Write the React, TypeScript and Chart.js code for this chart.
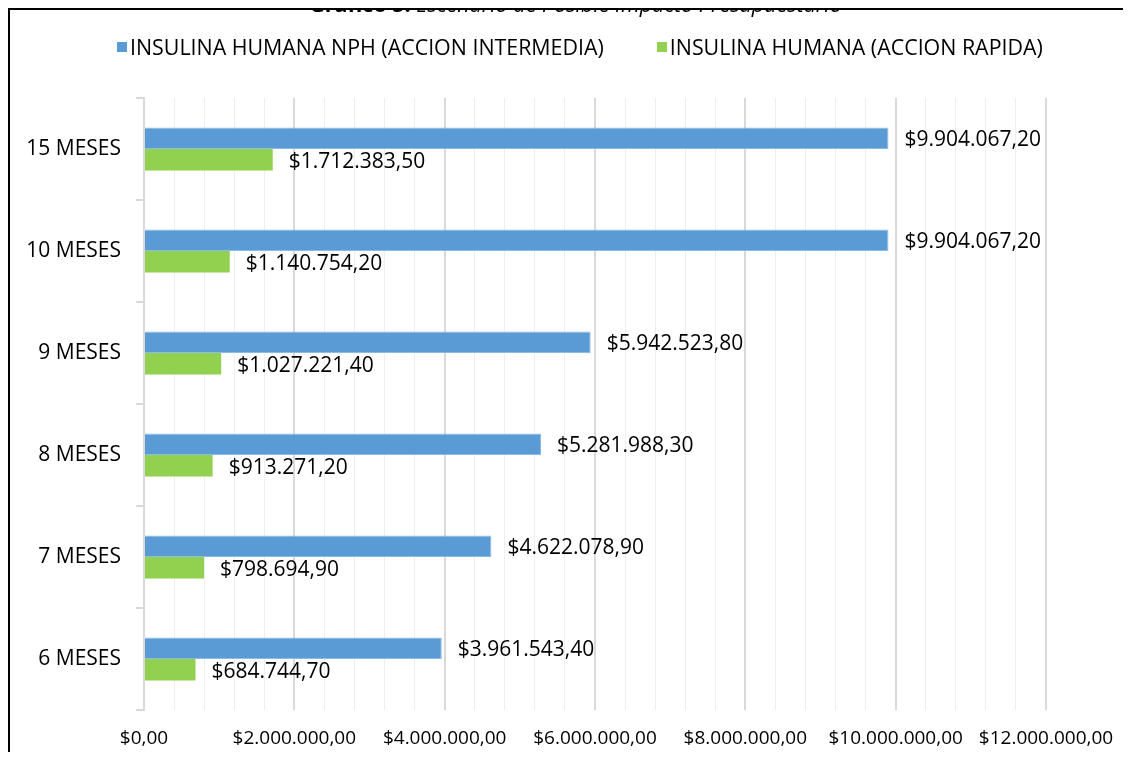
import React, { useEffect, useRef } from "react";
import { Chart, registerables } from "chart.js";

Chart.register(...registerables);

const categories = ["15 MESES", "10 MESES", "9 MESES", "8 MESES", "7 MESES", "6 MESES"];
const nphValues = [9904067.2, 9904067.2, 5942523.8, 5281988.3, 4622078.9, 3961543.4];
const rapidaValues = [1712383.5, 1140754.2, 1027221.4, 913271.2, 798694.9, 684744.7];
const seriesNames = ["INSULINA HUMANA NPH (ACCION INTERMEDIA)", "INSULINA HUMANA (ACCION RAPIDA)"];
const seriesColors = ["#5B9BD5", "#92D050"];
const xMin = 0;
const xMax = 12000000;
const xMinorStep = 400000;
const xMajorStep = 2000000;

const FONT = '"Open Sans", "DejaVu Sans", sans-serif';

const fmt = (v: number) => {
  const [i, d] = v.toFixed(2).split(".");
  return "$" + i.replace(/\B(?=(\d{3})+(?!\d))/g, ".") + "," + d;
};

const labelPlugin = {
  id: "barValueLabels",
  afterDatasetsDraw(chart: any) {
    const ctx = chart.ctx;
    ctx.save();
    ctx.font = `21px ${FONT}`;
    ctx.fillStyle = "#000";
    ctx.textAlign = "left";
    ctx.textBaseline = "middle";
    chart.data.datasets.forEach((ds: any, i: number) => {
      const meta = chart.getDatasetMeta(i);
      meta.data.forEach((el: any, j: number) => {
        ctx.fillText(fmt(ds.data[j]), el.x + 16, el.y + 2);
      });
    });
    ctx.restore();
  },
};

export default function App() {
  const ref = useRef<HTMLCanvasElement | null>(null);

  useEffect(() => {
    document.body.style.overflow = "hidden";
    if (!ref.current) return;
    const chart = new Chart(ref.current, {
      type: "bar",
      data: {
        labels: categories,
        datasets: [
          {
            label: seriesNames[0],
            data: nphValues,
            backgroundColor: seriesColors[0],
            borderColor: "#8dbbe6",
            borderWidth: 1,
            categoryPercentage: 0.42,
            barPercentage: 1,
          },
          {
            label: seriesNames[1],
            data: rapidaValues,
            backgroundColor: seriesColors[1],
            borderWidth: 0,
            categoryPercentage: 0.42,
            barPercentage: 1,
          },
        ],
      },
      options: {
        indexAxis: "y",
        responsive: false,
        animation: false,
        devicePixelRatio: 1,
        layout: { padding: { top: 88, right: 77, left: 0, bottom: 0 } },
        plugins: {
          legend: { display: false },
          title: { display: false },
          tooltip: { enabled: false },
        },
        scales: {
          x: {
            min: xMin,
            max: xMax,
            border: { display: false },
            grid: {
              drawTicks: false,
              color: (c: any) =>
                c.tick && c.tick.value % xMajorStep === 0 ? "#d9d9d9" : "#eeeeee",
              lineWidth: (c: any) =>
                c.tick && c.tick.value % xMajorStep === 0 ? 2 : 1,
            },
            ticks: {
              stepSize: xMinorStep,
              autoSkip: false,
              maxRotation: 0,
              padding: 17,
              color: "#000",
              font: { family: FONT, size: 19 },
              callback: (v: any) => (Number(v) % xMajorStep === 0 ? fmt(Number(v)) : ""),
            },
            afterFit: (s: any) => {
              s.height = 42;
              s.paddingLeft = 0;
              s.paddingRight = 0;
            },
          },
          y: {
            border: { display: true, color: "#d9d9d9", width: 2 },
            grid: {
              drawOnChartArea: false,
              drawTicks: true,
              tickLength: 8,
              color: "#d9d9d9",
              lineWidth: 2,
              offset: true,
            },
            ticks: {
              padding: 15,
              color: "#000",
              font: { family: FONT, size: 21 },
            },
            afterFit: (s: any) => {
              s.width = 134;
              s.paddingTop = 0;
              s.paddingBottom = 0;
            },
          },
        },
      },
      plugins: [labelPlugin],
    } as any);
    return () => chart.destroy();
  }, []);

  return (
    <div style={{ position: "relative" }}>
      <div
        style={{
          position: "absolute",
          top: -15,
          left: 0,
          width: 1135,
          textAlign: "center",
          fontFamily: FONT,
          fontSize: 21.5,
          lineHeight: "22px",
          color: "#000",
          whiteSpace: "nowrap",
          zIndex: 2,
        }}
      >
        <b>Gráfico 5.</b> <i>Escenario de Posible Impacto Presupuestario</i>
      </div>
      <div
        style={{
          position: "relative",
          borderTop: "2px solid #000",
          borderLeft: "2px solid #000",
          height: 742,
          boxSizing: "content-box",
          background: "#fff",
        }}
      >
        <div
          style={{
            position: "absolute",
            left: 107,
            top: 24,
            display: "flex",
            alignItems: "center",
            fontFamily: FONT,
            fontSize: 21.4,
            lineHeight: "26px",
            color: "#000",
            whiteSpace: "nowrap",
          }}
        >
          {seriesNames.map((n, i) => (
            <div
              key={n}
              style={{ display: "flex", alignItems: "center", marginRight: i === 0 ? 53 : 0 }}
            >
              <span
                style={{
                  display: "inline-block",
                  width: 10,
                  height: 10,
                  background: seriesColors[i],
                  marginRight: 3,
                }}
              />
              <span>{n}</span>
            </div>
          ))}
        </div>
        <canvas ref={ref} width={1113} height={742} style={{ display: "block" }} />
      </div>
    </div>
  );
}
